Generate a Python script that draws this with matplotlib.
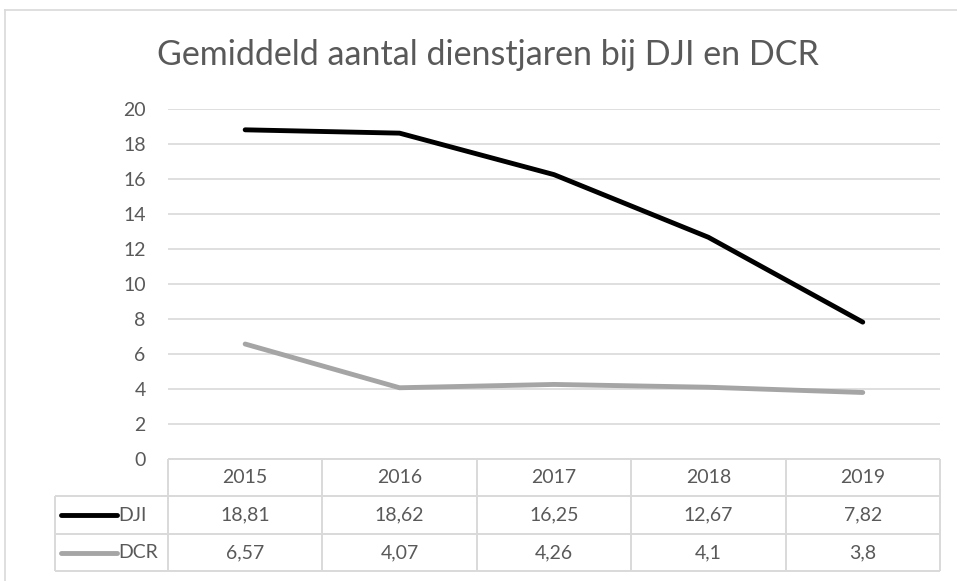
import matplotlib.pyplot as plt
import numpy as np

plt.rcParams['font.family'] = ['Lato', 'DejaVu Sans']

title = 'Gemiddeld aantal dienstjaren bij DJI en DCR'
years = ['2015', '2016', '2017', '2018', '2019']
series_names = ['DJI', 'DCR']
dji = [18.81, 18.62, 16.25, 12.67, 7.82]
dcr = [6.57, 4.07, 4.26, 4.1, 3.8]
colors = ['#000000', '#A5A5A5']

txt = '#595959'
grid = '#D9D9D9'
fs = 14

fig = plt.figure(figsize=(9.57, 5.81), dpi=100)
ax = fig.add_axes([0.1755, 0.21, 0.8067, 0.6024])

x = np.arange(len(years))
for vals, c in zip([dji, dcr], colors):
    ax.plot(x, vals, color=c, lw=3.5, solid_capstyle='round', solid_joinstyle='round', zorder=3)

ax.set_xlim(-0.5, len(years) - 0.5)
ax.set_ylim(0, 20)
ax.set_yticks(range(0, 21, 2))
ax.set_xticks([])
ax.tick_params(axis='y', length=0, pad=16, labelsize=fs, labelcolor=txt)
ax.grid(axis='y', color=grid, lw=1.2)
ax.set_axisbelow(True)
for s in ax.spines.values():
    s.set_visible(False)

# data table below the plot (data units: 20 per 350 px)
row_h = 37.5 * 20 / 350
hdr_left = -0.5 - 113 / 154.4
n = len(years)
kw = dict(color=grid, lw=1.4, clip_on=False, solid_capstyle='butt')
ax.plot([-0.5, n - 0.5], [0, 0], **kw)
for r in range(1, 4):
    ax.plot([hdr_left, n - 0.5], [-r * row_h, -r * row_h], **kw)
for i in range(n + 1):
    ax.plot([i - 0.5, i - 0.5], [0, -3 * row_h], **kw)
ax.plot([hdr_left, hdr_left], [-row_h, -3 * row_h], **kw)

for i, yr in enumerate(years):
    ax.text(i, -0.5 * row_h, yr, ha='center', va='center', color=txt, fontsize=fs)
for r, (name, vals, c) in enumerate(zip(series_names, [dji, dcr], colors)):
    yc = -(1.5 + r) * row_h
    ax.plot([hdr_left + 0.04, hdr_left + 0.4], [yc, yc], color=c, lw=3.5,
            solid_capstyle='round', clip_on=False)
    ax.text(hdr_left + 0.41, yc, name, ha='left', va='center', color=txt, fontsize=fs)
    for i, v in enumerate(vals):
        ax.text(i, yc, str(v).replace('.', ','), ha='center', va='center',
                color=txt, fontsize=fs)

fig.text(0.51, 0.905, title, ha='center', va='center', color=txt, fontsize=24.5)

# chart border (left/top visible)
fig.add_artist(plt.Line2D([5 / 957, 5 / 957], [0, 1 - 10 / 581], transform=fig.transFigure,
                          color=grid, lw=1.2))
fig.add_artist(plt.Line2D([5 / 957, 1], [1 - 10 / 581, 1 - 10 / 581], transform=fig.transFigure,
                          color=grid, lw=1.2))

fig.savefig('out.png', dpi=100)
